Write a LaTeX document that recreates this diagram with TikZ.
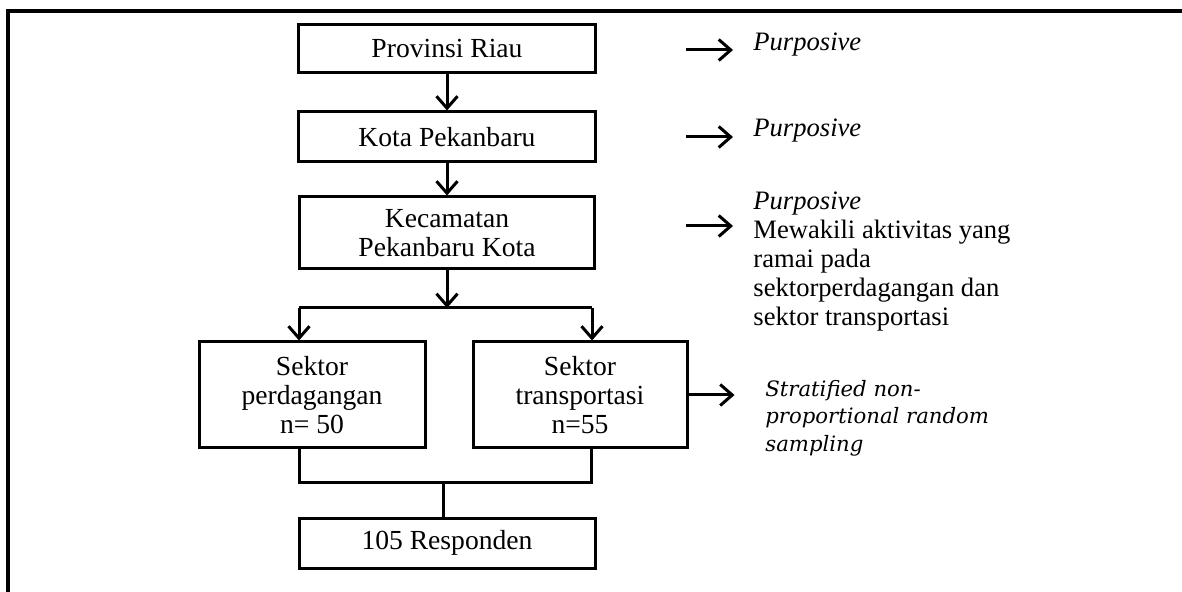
\documentclass[tikz,border=0pt]{standalone}
\usepackage{fontspec}
\setmainfont{Liberation Serif}
\newfontfamily\notefont{DejaVu Serif}
\usetikzlibrary{arrows.meta,positioning,calc}

\begin{document}
\begin{tikzpicture}[x=0.5pt, y=-0.5pt,
  box/.style={draw, line width=1.5pt, inner sep=0pt, align=center,
    font=\fontsize{13.8}{14.3}\selectfont},
  arr/.style={line width=1.5pt, -{Straight Barb[length=6pt,width=10.5pt]}},
  note/.style={anchor=west, inner sep=0pt, align=left,
    font=\fontsize{13.3}{14.5}\selectfont}]
\useasboundingbox (0,0) rectangle (1182,592);
% frame
\draw[line width=1.8pt] (1182,11) -- (8,11) -- (8,592);

% main column
\node[box, minimum width=148.5pt, minimum height=24pt] (prov) at (447,49) {Provinsi Riau};
\node[box, minimum width=148.5pt, minimum height=25pt] (kota) at (447,137) {Kota Pekanbaru};
\node[box, minimum width=147.5pt, minimum height=36pt] (kec) at (447,233) {Kecamatan\\Pekanbaru Kota};

% sectors
\node[box, minimum width=113pt, minimum height=53pt] (dagang) at (312,395) {Sektor\\perdagangan\\n= 50};
\node[box, minimum width=107pt, minimum height=53pt] (trans) at (580,395) {Sektor\\transportasi\\n=55};
\node[box, minimum width=148pt, minimum height=25pt] (resp) at (447,543) {105 Responden};

\draw[arr] (prov) -- (kota);
\draw[arr] (kota) -- (kec);

% split and merge
\coordinate (split) at (447,308);
\coordinate (splitL) at (299,308);
\coordinate (splitR) at (592,308);
\coordinate (merge) at (443,483);
\coordinate (mergeL) at (299,483);
\coordinate (mergeR) at (591,483);
\draw[arr] (kec) -- (split);
\draw[line width=1.5pt] (splitL) -- (splitR);
\draw[arr] (splitL) -- (splitL |- dagang.north);
\draw[arr] (splitR) -- (splitR |- trans.north);
\draw[line width=1.5pt] (mergeL |- dagang.south) -- (mergeL) -- (mergeR) -- (mergeR |- trans.south);
\draw[line width=1.5pt] (merge) -- (merge |- resp.north);

% notes
\node[note] (note1) at (753,45) {\textit{Purposive}};
\node[note] (note2) at (753,131) {\textit{Purposive}};
\node[note, anchor=north west] (note3) at (753,191) {\textit{Purposive}\\Mewakili aktivitas yang\\ramai pada\\sektorperdagangan dan\\sektor transportasi};
\node[note, font=\notefont\itshape\fontsize{10.6}{13.8}\selectfont] (note4) at (765,418) {Stratified non-\\proportional random\\sampling};

\coordinate (a1) at (686,50);
\coordinate (a2) at (686,137);
\coordinate (a3) at (686,226);
\draw[arr] (a1) -- ++(47,0);
\draw[arr] (a2) -- ++(47,0);
\draw[arr] (a3) -- ++(47,0);
\draw[arr] (trans.east) -- ++(46,0);

\end{tikzpicture}
\end{document}
